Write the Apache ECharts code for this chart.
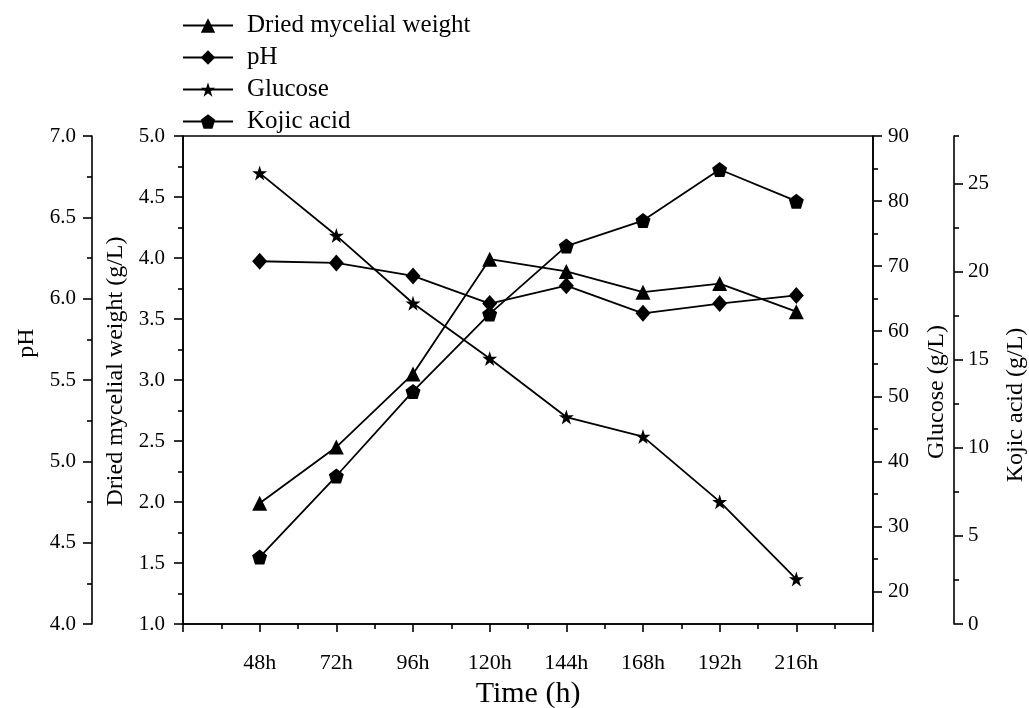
<!DOCTYPE html>
<html>
<head>
<meta charset="utf-8">
<script src="https://cdn.jsdelivr.net/npm/echarts@6/dist/echarts.min.js"></script>
<style>
html,body{margin:0;padding:0;background:#fff;}
#chart{width:1029px;height:708px;}
</style>
</head>
<body>
<div id="chart"></div>
<script>
// ---- data ----
const times = [48, 72, 96, 120, 144, 168, 192, 216];
const driedWeight = [1.99, 2.45, 3.05, 3.99, 3.89, 3.72, 3.79, 3.56];
const phValues = [6.23, 6.22, 6.14, 5.97, 6.08, 5.91, 5.97, 6.02];
const glucose = [84.3, 74.7, 64.3, 55.8, 46.8, 43.8, 33.8, 21.9];
const kojicAcid = [3.8, 8.4, 13.2, 17.6, 21.45, 22.9, 25.8, 24.0];

const seriesNames = ['Dried mycelial weight', 'pH', 'Glucose', 'Kojic acid'];
const glucoseTicks = [20, 30, 40, 50, 60, 70, 80, 90];
const glucoseMinorTicks = [25, 35, 45, 55, 65, 75, 85];
const kojicTicks = [0, 5, 10, 15, 20, 25];
const kojicMinorTicks = [2.5, 7.5, 12.5, 17.5, 22.5, 27.7];

const FONT = 'Liberation Serif';
const STAR = 'path://M50,0 L61.2,34.5 L97.6,34.5 L68.2,55.9 L79.4,90.5 L50,69.1 L20.6,90.5 L31.8,55.9 L2.4,34.5 L38.8,34.5 Z';
const PENTAGON = 'path://M50,0 L100,36.3 L80.9,95.1 L19.1,95.1 L0,36.3 Z';

function pairs(vals){ return times.map((t,i)=>[t, vals[i]]); }

const axisLineStyle = {color:'#000', width:1.6};
const labelStyle = {color:'#000', fontFamily:FONT, fontSize:21};
function nameStyle(padding){ return {color:'#000', fontFamily:FONT, fontSize:24, padding:padding}; }

const chart = echarts.init(document.getElementById('chart'), null, {renderer:'canvas'});
chart.setOption({
  backgroundColor:'#fff',
  animation:false,
  grid:{left:183, right:156, top:136, bottom:84, show:true, borderColor:'#000', borderWidth:1.6,
        backgroundColor:'transparent', containLabel:false, outerBoundsMode:'none'},
  legend:{
    orient:'vertical', left:182, top:13, padding:0, itemWidth:50, itemHeight:18, itemGap:7,
    data:seriesNames,
    textStyle:{color:'#000', fontFamily:FONT, fontSize:25, lineHeight:25, padding:[0,0,0,9]}
  },
  xAxis:{
    type:'value', min:24, max:240, interval:24,
    name:'Time (h)', nameLocation:'middle', nameGap:55,
    nameTextStyle:{color:'#000', fontFamily:FONT, fontSize:30},
    axisLine:{lineStyle:axisLineStyle},
    axisTick:{show:true, inside:false, length:8, lineStyle:axisLineStyle},
    minorTick:{show:true, splitNumber:2, length:5, lineStyle:axisLineStyle},
    splitLine:{show:false},
    axisLabel:Object.assign({margin:28, formatter:v=> (v===24||v===240)?'':(v+'h')}, labelStyle, {fontSize:22})
  },
  yAxis:[
    { // 0 dried weight
      type:'value', position:'left', offset:0, min:1, max:5, interval:0.5,
      name:'Dried mycelial weight (g/L)', nameLocation:'middle', nameRotate:90, nameGap:53, nameTextStyle:nameStyle([0,0,0,17]),
      axisLine:{show:true, lineStyle:axisLineStyle},
      axisTick:{show:true, inside:false, length:9, lineStyle:axisLineStyle},
      minorTick:{show:true, splitNumber:2, length:5, lineStyle:axisLineStyle},
      splitLine:{show:false},
      axisLabel:Object.assign({margin:18, formatter:v=>v.toFixed(1)}, labelStyle)
    },
    { // 1 pH
      type:'value', position:'left', offset:91, min:4, max:7, interval:0.5,
      name:'pH', nameLocation:'middle', nameRotate:90, nameGap:51, nameTextStyle:nameStyle([0,0,0,74]),
      axisLine:{show:true, lineStyle:axisLineStyle},
      axisTick:{show:true, inside:false, length:9, lineStyle:axisLineStyle},
      minorTick:{show:true, splitNumber:2, length:5, lineStyle:axisLineStyle},
      splitLine:{show:false},
      axisLabel:Object.assign({margin:16, formatter:v=>v.toFixed(1)}, labelStyle)
    },
    { // 2 glucose
      type:'value', position:'right', offset:0, min:15, max:90,
      name:'Glucose (g/L)', nameLocation:'middle', nameRotate:90, nameGap:52, nameTextStyle:nameStyle([0,24,0,0]),
      axisLine:{show:true, lineStyle:axisLineStyle},
      axisTick:{show:true, inside:false, length:9, lineStyle:axisLineStyle, customValues:glucoseTicks},
      splitLine:{show:false},
      axisLabel:Object.assign({margin:15, customValues:glucoseTicks}, labelStyle)
    },
    { // 3 kojic acid
      type:'value', position:'right', offset:81, min:0, max:27.7,
      name:'Kojic acid (g/L)', nameLocation:'middle', nameRotate:90, nameGap:50, nameTextStyle:nameStyle([0,50,0,0]),
      axisLine:{show:true, lineStyle:axisLineStyle},
      axisTick:{show:true, inside:false, length:9, lineStyle:axisLineStyle, customValues:kojicTicks},
      splitLine:{show:false},
      axisLabel:Object.assign({margin:14, customValues:kojicTicks}, labelStyle)
    },
    { // 4 glucose minor ticks
      type:'value', position:'right', offset:0, min:15, max:90,
      axisLine:{show:false},
      axisTick:{show:true, inside:false, length:5, lineStyle:axisLineStyle, customValues:glucoseMinorTicks},
      axisLabel:{show:false}, splitLine:{show:false}
    },
    { // 5 kojic minor ticks
      type:'value', position:'right', offset:81, min:0, max:27.7,
      axisLine:{show:false},
      axisTick:{show:true, inside:false, length:5, lineStyle:axisLineStyle, customValues:kojicMinorTicks},
      axisLabel:{show:false}, splitLine:{show:false}
    }
  ],
  series:[
    {name:seriesNames[0], type:'line', yAxisIndex:0, data:pairs(driedWeight),
     symbol:'triangle', symbolSize:15, lineStyle:{color:'#000', width:1.8}, itemStyle:{color:'#000'}},
    {name:seriesNames[1], type:'line', yAxisIndex:1, data:pairs(phValues),
     symbol:'diamond', symbolSize:[15,17], lineStyle:{color:'#000', width:1.8}, itemStyle:{color:'#000'}},
    {name:seriesNames[2], type:'line', yAxisIndex:2, data:pairs(glucose),
     symbol:STAR, symbolSize:15, lineStyle:{color:'#000', width:1.8}, itemStyle:{color:'#000'}},
    {name:seriesNames[3], type:'line', yAxisIndex:3, data:pairs(kojicAcid),
     symbol:PENTAGON, symbolSize:15, lineStyle:{color:'#000', width:1.8}, itemStyle:{color:'#000'}}
  ]
});
</script>
</body>
</html>
